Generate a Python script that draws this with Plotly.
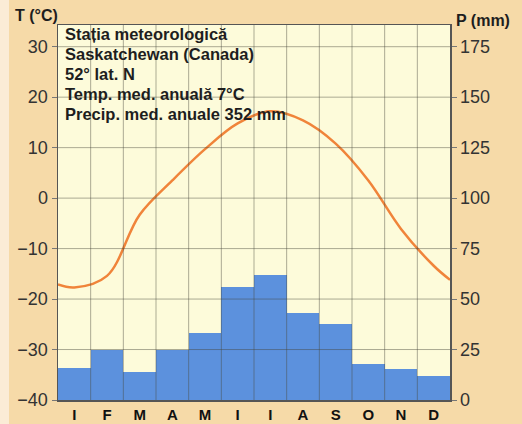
import plotly.graph_objects as go

months = ["I", "F", "M", "A", "M", "I", "I", "A", "S", "O", "N", "D"]
precip_mm = [16, 25, 14, 25, 33, 56, 62, 43, 37.5, 18, 15.5, 12]
temp_c = [-17.7, -15.4, -3.3, 3.5, 9.7, 14.8, 17.2, 15.4, 10.8, 3.5, -6.1, -13.4]
temp_edge_start = -17.1
temp_edge_end = -16.2
t_ticks = [-40, -30, -20, -10, 0, 10, 20, 30]
p_ticks = [0, 25, 50, 75, 100, 125, 150, 175]
info_lines = [
    "Stația meteorologică",
    "Saskatchewan (Canada)",
    "52° lat. N",
    "Temp. med. anuală 7°C",
    "Precip. med. anuale 352 mm",
]

T_MIN, T_MAX = -40, 34.3
MM_PER_DEG = 2.5
P_MAX = (T_MAX - T_MIN) * MM_PER_DEG

n = len(months)
xc = list(range(n))
x_line = [-0.5] + xc + [n - 0.5]
y_line = [temp_edge_start] + temp_c + [temp_edge_end]

FONT = "Liberation Sans, Arial, sans-serif"
GRID = "rgba(70,70,60,0.45)"
PAPER = "#f6daa8"

fig = go.Figure()
fig.add_trace(go.Bar(
    x=xc, y=precip_mm, yaxis="y2", width=1.0,
    marker=dict(color="#5c91dd", line=dict(width=0)),
    showlegend=False, hoverinfo="skip",
))
fig.add_trace(go.Scatter(
    x=x_line, y=y_line, yaxis="y", mode="lines",
    line=dict(color="#f0843a", width=2.5, shape="spline", smoothing=1.0),
    showlegend=False, hoverinfo="skip",
))

shapes = []
shapes.append(dict(type="rect", xref="paper", yref="paper", x0=-0.16, x1=-0.125,
                   y0=-0.1, y1=1.1, fillcolor="#fbecd6", line=dict(width=0), layer="below"))
for k in range(n - 1):
    shapes.append(dict(type="line", xref="x", yref="y", x0=k + 0.5, x1=k + 0.5,
                       y0=T_MIN, y1=T_MAX, line=dict(color=GRID, width=1), layer="above"))
for t in t_ticks[1:]:
    shapes.append(dict(type="line", xref="x", yref="y", x0=-0.5, x1=n - 0.5,
                       y0=t, y1=t, line=dict(color=GRID, width=1), layer="above"))

annotations = []
for i, line in enumerate(info_lines):
    annotations.append(dict(
        text=line, xref="paper", yref="paper", x=0, y=1,
        xanchor="left", yanchor="middle", xshift=5, yshift=-9 - 20 * i,
        showarrow=False,
        font=dict(family=FONT, size=16.5, color="#1e1e1e", weight="bold"),
    ))
annotations.append(dict(text="T (°C)", xref="paper", yref="paper", x=0, y=1,
                        xanchor="right", yanchor="middle", xshift=2, yshift=10, showarrow=False,
                        font=dict(family=FONT, size=16, color="#1e1e1e", weight="bold")))
annotations.append(dict(text="P (mm)", xref="paper", yref="paper", x=1, y=1,
                        xanchor="left", yanchor="middle", xshift=4, yshift=5, showarrow=False,
                        font=dict(family=FONT, size=16, color="#1e1e1e", weight="bold")))

fig.update_layout(
    width=522, height=424,
    margin=dict(l=58, r=72, t=25, b=24, autoexpand=False),
    paper_bgcolor=PAPER,
    plot_bgcolor="#fdfbda",
    bargap=0,
    shapes=shapes,
    annotations=annotations,
    xaxis=dict(
        range=[-0.5, n - 0.5], tickvals=xc, ticktext=months, automargin=False,
        showgrid=False, zeroline=False, ticks="", ticklen=0,
        showline=True, linecolor="#555", linewidth=1.5, mirror=True,
        tickfont=dict(family=FONT, size=15, color="#111", weight="bold"),
    ),
    yaxis=dict(
        range=[T_MIN, T_MAX], tickvals=t_ticks, showgrid=False, zeroline=False, automargin=False,
        ticks="outside", ticklen=5, tickcolor="#777", tickwidth=1,
        showline=True, linecolor="#555", linewidth=1.5,
        tickfont=dict(family=FONT, size=18, color="#333"),
    ),
    yaxis2=dict(
        range=[0, P_MAX], tickvals=p_ticks, overlaying="y", side="right", automargin=False,
        showgrid=False, zeroline=False,
        ticks="outside", ticklen=5, tickcolor="#777", tickwidth=1,
        showline=True, linecolor="#555", linewidth=1.5,
        tickfont=dict(family=FONT, size=18, color="#333"),
    ),
)

fig.write_html(
    "out.html",
    config={"staticPlot": True},
    post_script="document.body.style.margin='0';document.body.style.padding='0';"
                "document.body.style.overflow='hidden';document.body.style.background='" + PAPER + "';",
)
